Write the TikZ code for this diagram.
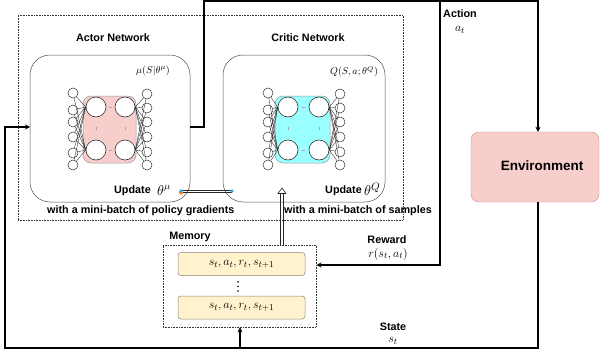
\documentclass[tikz,border=0pt]{standalone}
\usepackage{fontspec}
\setmainfont{Liberation Sans}
\usetikzlibrary{arrows.meta,calc}
\definecolor{pinkfill}{HTML}{F8CECC}
\definecolor{pinkedge}{HTML}{C9908C}
\definecolor{cyanfill}{HTML}{99FFFF}
\definecolor{rowfill}{HTML}{FFF2CC}
\definecolor{rowedge}{HTML}{8A8570}
\definecolor{markblue}{HTML}{33A8F0}
\tikzset{
  lbl/.style={font=\bfseries\fontsize{10.8}{12}\selectfont, inner sep=0pt},
  mathlbl/.style={font=\fontsize{12.5}{14}\selectfont, inner sep=0pt},
  netbox/.style={draw=black!70, line width=0.5pt, rounded corners=20pt},
  smallc/.style={circle, draw=black!80, fill=white, line width=0.5pt, minimum size=10pt, inner sep=0pt},
  bigc/.style={circle, draw=black!80, fill=white, line width=0.6pt, minimum size=20pt, inner sep=0pt},
  dotbox/.style={draw=black!80, densely dotted, line width=0.6pt},
  rowbox/.style={draw=rowedge, fill=rowfill, rounded corners=3pt, line width=0.5pt, minimum width=127pt, minimum height=23pt, inner sep=0pt, font=\fontsize{12.5}{14}\selectfont},
  flow/.style={line width=1.1pt, -{Stealth[length=5pt,width=5pt]}},
  edge/.style={black!85, line width=0.35pt},
  gapmark/.style={black!35, line width=0.4pt},
  rail/.style={line width=0.7pt, black!85}
}
% #1 name, #2 fill, #3 left, #4 inner left, #5 inner right, #6 right
\newcommand{\drawnet}[6]{
  \path[draw=black!40, fill=#2, rounded corners=8pt, line width=0.5pt]
    (#4-13,96) rectangle (#5+11,163);
  \foreach \i/\y in {1/93,2/110,3/122,4/137,5/153,6/165}
    \node[smallc] (#1l\i) at (#3,\y) {};
  \foreach \i/\y in {1/94,2/108,3/122,4/137,5/152,6/165}
    \node[smallc] (#1r\i) at (#6,\y) {};
  \node[bigc] (#1a) at (#4,107) {};
  \node[bigc] (#1b) at (#5,107) {};
  \node[bigc] (#1c) at (#4,150) {};
  \node[bigc] (#1d) at (#5,150) {};
  \foreach \i in {1,...,6}{
    \draw[edge] (#1l\i) -- (#1a.west);
    \draw[edge] (#1l\i) -- (#1c.west);
    \draw[edge] (#1r\i) -- (#1b.east);
    \draw[edge] (#1r\i) -- (#1d.east);
  }
  % gaps between the big circles
  \draw[gapmark] ($(#1a)!0.5!(#1b)+(-1.5,0)$) -- ++(3,0);
  \draw[gapmark] ($(#1c)!0.5!(#1d)+(-1.5,0)$) -- ++(3,0);
  \draw[gapmark, densely dotted] ($(#1a)!0.5!(#1c)+(0,-2)$) -- ++(0,4);
  \draw[gapmark, densely dotted] ($(#1b)!0.5!(#1d)+(0,-2)$) -- ++(0,4);
}
\begin{document}
\begin{tikzpicture}[x=1pt,y=-1pt]
  \useasboundingbox (0,0) rectangle (600,356);

  % outer frame
  \node[dotbox, minimum width=385pt, minimum height=205pt, inner sep=0pt] (agent) at (210.5,117.5) {};

  % actor
  \draw[netbox] (30,55) rectangle (190,202);
  \drawnet{act}{pinkfill}{73}{96}{125}{147}
  \node[lbl] (actortitle) at (113,38) {Actor Network};
  \node[mathlbl, font=\fontsize{10}{11}\selectfont] (actormath) at (153,71) {$\mu(S|\theta^{\mu})$};
  \node[lbl, anchor=west] (actorupdate) at (114,191) {Update};
  \node[mathlbl, font=\fontsize{14}{15}\selectfont, anchor=west] (actortheta) at (157,190) {$\theta^{\mu}$};

  % critic
  \draw[netbox] (223,55) rectangle (385,202);
  \drawnet{crt}{cyanfill}{268}{288}{319}{340}
  \node[lbl] (critictitle) at (308,38) {Critic Network};
  \node[mathlbl, font=\fontsize{10}{11}\selectfont] (criticmath) at (354,72) {$Q(S,a;\theta^{Q})$};
  \node[lbl, anchor=west] (criticupdate) at (325,191) {Update};
  \node[mathlbl, font=\fontsize{15}{16}\selectfont, anchor=west] (critictheta) at (364,189) {$\theta^{Q}$};

  % captions
  \node[lbl, anchor=west] (capactor) at (47,211) {with a mini-batch of policy gradients};
  \node[lbl, anchor=west] (capcritic) at (284,211) {with a mini-batch of samples};

  % memory
  \node[dotbox, minimum width=153pt, minimum height=82pt, inner sep=0pt] (memory) at (239.5,286) {};
  \node[lbl] (memorytitle) at (190,237) {Memory};
  \node[rowbox] (rowa) at (241.5,264) {$s_t,a_t,r_t,s_{t+1}$};
  \node[rowbox] (rowb) at (241.5,307.5) {$s_t,a_t,r_t,s_{t+1}$};
  \fill (238,282) circle (0.8) (238,286.5) circle (0.8) (238,291) circle (0.8);

  % environment
  \node[draw=pinkedge, fill=pinkfill, rounded corners=8pt, minimum width=128pt, minimum height=70pt, inner sep=0pt] (env) at (535,167) {};
  \node[inner sep=0pt, font=\bfseries\fontsize{13.5}{15}\selectfont] (envtext) at (542,166) {Environment};

  % flow labels
  \node[lbl] (actionlbl) at (460,14) {Action};
  \node[mathlbl] (actionmath) at (460,30) {$a_t$};
  \node[lbl] (rewardlbl) at (387,240) {Reward};
  \node[mathlbl] (rewardmath) at (388,254) {$r(s_t,a_t)$};
  \node[lbl] (statelbl) at (393,327) {State};
  \node[mathlbl] (statemath) at (393,341) {$s_t$};

  % connectors
  \coordinate (actorout) at (190,127);
  \coordinate (actorin) at (30,127);
  \coordinate (topright) at (440,1);
  \draw[flow] (actorout) -- (204,127) -- (204,1) -- (538,1) -- (env.north -| 538,0);
  \draw[flow] (topright) -- (440,265) -- (316.5,265);
  \draw[flow] (env.south -| 538,0) -- (538,348) -- (5,348) -- (5,127) -- (actorin);
  \coordinate (membase) at (240,348);
  \draw[flow] (membase) -- (memory.south -| membase);

  % update links
  \coordinate (critictip) at (282,188);
  \coordinate (criticneck) at (282,193);
  \coordinate (memtop) at (282,245);
  \draw[rail] ([xshift=-1.2pt]memtop) -- ([xshift=-1.2pt]criticneck);
  \draw[rail] ([xshift=1.2pt]memtop) -- ([xshift=1.2pt]criticneck);
  \draw[draw=black!85, fill=white, line width=0.6pt] (critictip) -- (286,193.5) -- (278,193.5) -- cycle;
  \coordinate (linkleft) at (181,191);
  \coordinate (linkright) at (232,191);
  \draw[rail] ([yshift=-1pt]linkright) -- ([yshift=-1pt]linkleft);
  \draw[rail] ([yshift=1pt]linkright) -- ([yshift=1pt]linkleft);
  \fill[orange] (181,192.5) circle (2);
  \fill[markblue] (linkleft) circle (1.8) (linkright) circle (1.8);
\end{tikzpicture}
\end{document}
